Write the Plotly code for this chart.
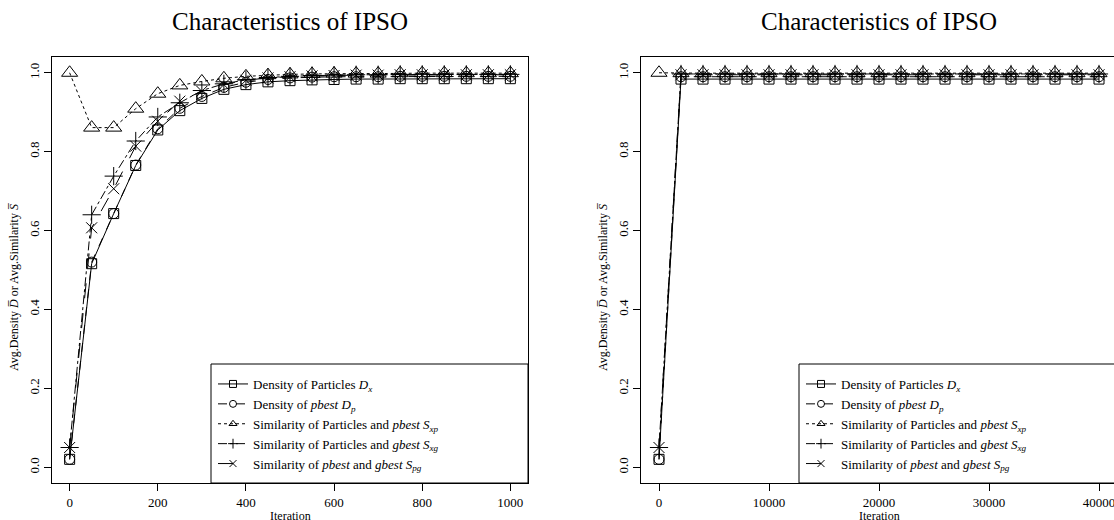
import plotly.graph_objects as go

# ---------------- data ----------------
iter_short = [0, 50, 100, 150, 200, 250, 300, 350, 400, 450, 500,
              550, 600, 650, 700, 750, 800, 850, 900, 950, 1000]
dx_short  = [0.020, 0.516, 0.643, 0.765, 0.855, 0.904, 0.935, 0.958, 0.970, 0.977, 0.980,
             0.982, 0.983, 0.984, 0.984, 0.985, 0.985, 0.985, 0.985, 0.985, 0.985]
dp_short  = [0.020, 0.520, 0.643, 0.766, 0.858, 0.910, 0.940, 0.963, 0.976, 0.983, 0.987,
             0.989, 0.990, 0.990, 0.990, 0.991, 0.991, 0.991, 0.991, 0.991, 0.991]
sxp_short = [1.000, 0.861, 0.861, 0.909, 0.947, 0.968, 0.978, 0.986, 0.991, 0.994, 0.996,
             0.997, 0.998, 0.998, 0.998, 0.999, 0.999, 0.999, 0.999, 0.999, 0.999]
sxg_short = [0.050, 0.640, 0.738, 0.827, 0.888, 0.924, 0.955, 0.972, 0.982, 0.988, 0.991,
             0.993, 0.994, 0.995, 0.995, 0.996, 0.996, 0.996, 0.996, 0.996, 0.996]
spg_short = [0.050, 0.607, 0.706, 0.814, 0.877, 0.928, 0.953, 0.970, 0.981, 0.987, 0.990,
             0.992, 0.993, 0.994, 0.994, 0.995, 0.995, 0.995, 0.995, 0.995, 0.995]

iter_long = [0, 2000, 4000, 6000, 8000, 10000, 12000, 14000, 16000, 18000, 20000,
             22000, 24000, 26000, 28000, 30000, 32000, 34000, 36000, 38000, 40000]
dx_long  = [0.020] + [0.984] * 20
dp_long  = [0.020] + [0.990] * 20
sxp_long = [1.000] + [0.999] * 20
sxg_long = [0.050] + [0.997] * 20
spg_long = [0.050] + [0.995] * 20

x_ticks_short = [0, 200, 400, 600, 800, 1000]
x_ticks_long = [0, 10000, 20000, 30000, 40000]
x_ticktext_long = ["0", "10000", "20000", "30000", "40000"]
y_ticks = [0, 0.2, 0.4, 0.6, 0.8, 1.0]
y_ticktext = ["0.0", "0.2", "0.4", "0.6", "0.8", "1.0"]

series_names = [
    "Density of Particles <i>D<sub>x</sub></i>",
    "Density of <i>pbest</i> <i>D<sub>p</sub></i>",
    "Similarity of Particles and <i>pbest</i> <i>S<sub>xp</sub></i>",
    "Similarity of Particles and <i>gbest</i> <i>S<sub>xg</sub></i>",
    "Similarity of <i>pbest</i> and <i>gbest</i> <i>S<sub>pg</sub></i>",
]
title_text = "Characteristics of IPSO"
x_title = "Iteration"
y_title = "Avg.Density <i>D\u0305</i> or Avg.Similarity <i>S\u0305</i>"

# ---------------- styles ----------------
W, H = 1114, 520
FONT = "Liberation Serif"
styles = [
    dict(dash="solid", symbol="square-open", size=10),
    dict(dash="dash", symbol="circle-open", size=10),
    dict(dash="dot", symbol="triangle-up-open", size=14),
    dict(dash="dashdot", symbol="cross-thin-open", size=13),
    dict(dash="longdash", symbol="x-thin-open", size=11),
]

fig = go.Figure()

def add_panel(xs, ys_list, xa, ya, legend):
    for name, ys, st in zip(series_names, ys_list, styles):
        fig.add_trace(go.Scatter(
            x=xs, y=ys, mode="lines+markers", xaxis=xa, yaxis=ya,
            line=dict(color="black", width=1, dash=st["dash"]),
            marker=dict(symbol=st["symbol"], size=st["size"], color="black",
                        line=dict(color="black", width=1)),
            showlegend=False, hoverinfo="skip"))
    for name, st in zip(series_names, styles):
        fig.add_trace(go.Scatter(
            x=[None], y=[None], mode="lines+markers", xaxis=xa, yaxis=ya,
            name=name, legend=legend,
            line=dict(color="black", width=1, dash=st["dash"]),
            marker=dict(symbol=st["symbol"], size=7, color="black",
                        line=dict(color="black", width=1))))

add_panel(iter_short, [dx_short, dp_short, sxp_short, sxg_short, spg_short], "x", "y", "legend")
add_panel(iter_long, [dx_long, dp_long, sxp_long, sxg_long, spg_long], "x2", "y2", "legend2")

# pixel geometry
L1, R1 = 52, 528
L2, R2 = 641.4, 1114
TOP, BOT = 57, 483

def px(v):
    return v / W
def py(v):
    return 1 - v / H

axis_common = dict(showgrid=False, zeroline=False, showline=True, linecolor="black",
                   linewidth=1, ticks="outside", ticklen=7, tickcolor="black", tickwidth=1,
                   tickfont=dict(family=FONT, size=13, color="black"),
                   ticklabeloverflow="allow")

legend_common = dict(xanchor="left", yanchor="top", bgcolor="rgba(0,0,0,0)", borderwidth=0,
                     font=dict(family=FONT, size=13, color="black"), itemwidth=30)

fig.update_layout(
    width=W, height=H, margin=dict(l=0, r=0, t=0, b=0),
    paper_bgcolor="white", plot_bgcolor="white",
    font=dict(family=FONT, color="black"),
    xaxis=dict(domain=[px(L1), px(R1)], range=[-40, 1040], tickvals=x_ticks_short,
               mirror=True, anchor="y", **axis_common),
    yaxis=dict(domain=[py(BOT), py(TOP)], range=[-0.04, 1.04],
               tickvals=y_ticks, ticktext=y_ticktext,
               tickangle=-90, mirror=True, anchor="x", **axis_common),
    xaxis2=dict(domain=[px(L2), px(R2)], range=[-1600, 41364],
                tickvals=x_ticks_long, ticktext=x_ticktext_long, mirror=True, anchor="y2", **axis_common),
    yaxis2=dict(domain=[py(BOT), py(TOP)], range=[-0.04, 1.04],
                tickvals=y_ticks, ticktext=y_ticktext,
                tickangle=-90, mirror=False, anchor="x2", **axis_common),
    legend=dict(x=px(213), y=py(369), **legend_common),
    legend2=dict(x=px(801), y=py(369), **legend_common),
)

# legend boxes
fig.add_shape(type="rect", xref="paper", yref="paper",
              x0=px(211), x1=px(R1), y0=py(BOT), y1=py(364),
              line=dict(color="black", width=1), fillcolor="white", layer="below")
fig.add_shape(type="rect", xref="paper", yref="paper",
              x0=px(799), x1=px(1116), y0=py(BOT), y1=py(364),
              line=dict(color="black", width=1), fillcolor="white", layer="below")

# titles and axis labels
for cx, xl in [((L1 + R1) / 2, 14), ((L2 + 1116.6) / 2, 603)]:
    fig.add_annotation(text=title_text, xref="paper", yref="paper", x=px(cx), y=py(22),
                       xanchor="center", yanchor="middle", showarrow=False,
                       font=dict(family=FONT, size=25, color="black"))
    fig.add_annotation(text=x_title, xref="paper", yref="paper", x=px(cx),
                       y=py(516), xanchor="center", yanchor="middle", showarrow=False,
                       font=dict(family=FONT, size=12, color="black"))
    fig.add_annotation(text=y_title, xref="paper", yref="paper", x=px(xl), y=py(287),
                       xanchor="center", yanchor="middle", showarrow=False, textangle=-90,
                       font=dict(family=FONT, size=12, color="black"))

fig.write_html("out.html")
